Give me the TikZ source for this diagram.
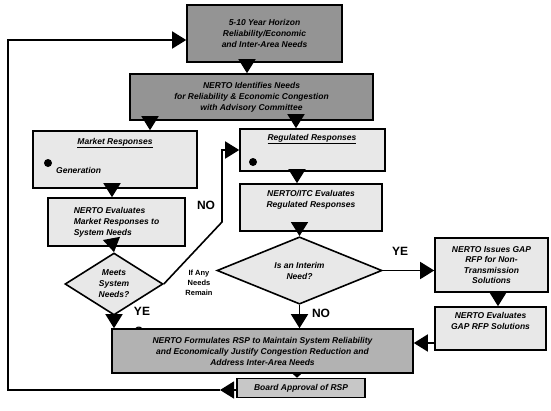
\documentclass[tikz,border=0pt]{standalone}
\usepackage{fontspec}
\setmainfont{Liberation Sans}
\usetikzlibrary{shapes.geometric,arrows.meta}
\begin{document}
\begin{tikzpicture}[x=1pt,y=-1pt,
  box/.style={draw=black,line width=1.6pt,inner sep=2pt,align=center,
    font=\bfseries\itshape\fontsize{8.5}{11}\selectfont},
  dark/.style={box,fill=black!42},
  mid/.style={box,fill=black!30},
  light/.style={box,fill=black!9},
  dia/.style={box,shape=diamond,inner sep=0pt,fill=black!9},
  txt/.style={inner sep=0pt,align=center,font=\bfseries\itshape\fontsize{8.5}{11}\selectfont},
  tag/.style={inner sep=0pt,font=\bfseries\fontsize{12}{12}\selectfont},
  dotmark/.style={circle,fill=black,inner sep=0pt,minimum size=8pt},
  arr/.style={line width=1.6pt,-{Triangle[width=17pt,length=14pt]}},
  shortarr/.style={line width=1.6pt,-{Triangle[width=11pt,length=5pt]}}
]
\useasboundingbox (0,0) rectangle (551,410);

% planning horizon and needs identification
\node[dark,minimum width=155pt,minimum height=57pt] (top) at (264.5,33.5)
  {5-10 Year Horizon\\Reliability/Economic\\and Inter-Area Needs};
\node[dark,minimum width=243pt,minimum height=46pt] (need) at (251.5,97)
  {NERTO Identifies Needs\\for Reliability \& Economic Congestion\\with Advisory Committee};

% market branch
\node[light,minimum width=164pt,minimum height=57pt] (market) at (115,159.5) {};
\node[txt] (markett) at (115,143) {\underline{Market Responses}};
\node[dotmark] (mdot) at (48,163) {};
\node[txt,anchor=west] (mgen) at (56,170) {Generation};
\node[light,minimum width=137pt,minimum height=48pt,align=left] (mkteval) at (116.5,222)
  {NERTO Evaluates\\Market Responses to\\System Needs};
\node[dia,minimum width=98pt,minimum height=62pt] (meets) at (114,284)
  {Meets\\System\\Needs?};

% regulated branch
\node[light,minimum width=145pt,minimum height=42pt] (reg) at (312.5,150) {};
\node[txt] (regt) at (312,139) {\underline{Regulated Responses}};
\node[dotmark] (rdot) at (253,162) {};
\node[light,minimum width=142pt,minimum height=47pt] (regeval) at (311,207.5) {};
\node[txt] (regevalt) at (311,200) {NERTO/ITC Evaluates\\Regulated Responses};
\node[dia,minimum width=165pt,minimum height=55pt] (interim) at (299.5,270.5)
  {Is an Interim\\Need?};

% interim (GAP) path
\node[light,minimum width=113pt,minimum height=54pt,font=\bfseries\itshape\fontsize{8.5}{10.5}\selectfont] (gap) at (491.5,265)
  {NERTO Issues GAP\\RFP for Non-\\Transmission\\Solutions};
\node[light,minimum width=111pt,minimum height=43pt] (gapeval) at (490.5,328.5) {};
\node[txt] (gapevalt) at (490.5,321) {NERTO Evaluates\\GAP RFP Solutions};

% plan formulation and approval
\node[tag] (yesl) at (142,311) {YE};
\node[tag] (yesl2) at (139,331) {S};
\node[mid,minimum width=301pt,minimum height=44pt] (rsp) at (262.5,351)
  {NERTO Formulates RSP to Maintain System Reliability\\and Economically Justify Congestion Reduction and\\Address Inter-Area Needs};
\node[box,fill=black!22,minimum width=128pt,minimum height=19pt,inner sep=1pt] (board) at (301,388)
  {Board Approval of RSP};

% branch labels
\node[tag] (nol) at (206,205) {NO};
\node[txt,font=\bfseries\fontsize{7.5}{10}\selectfont] (remain) at (199,283) {If Any\\Needs\\Remain};
\node[tag] (yesr) at (400,251) {YE};
\node[tag] (nor) at (321,313) {NO};

% connectors
\draw[arr] (top.south -| 247,0) -- (need.north -| 247,0);
\draw[arr] (need.south -| 150,0) -- (market.north -| 150,0);
\draw[arr] (need.south -| 296,0) -- (reg.north -| 296,0);
\draw[arr] (market.south -| 112,0) -- (mkteval.north -| 112,0);
\draw[arr] (mkteval.south -| 113,0) -- (meets.north);
\draw[arr] (meets.south) -- (rsp.north -| meets.south);
\draw[arr] (reg.south -| 297,0) -- (regeval.north -| 297,0);
\draw[arr] (regeval.south -| 299.5,0) -- (interim.north);
\draw[arr] (interim.south) -- (rsp.north -| interim.south);
\draw[arr] (interim.east) -- (gap.west |- interim.east);
\draw[arr] (gap.south -| 498,0) -- (gapeval.north -| 498,0);
\draw[arr] (gapeval.west |- 0,343) -- (rsp.east |- 0,343);
\draw[shortarr] (rsp.south -| 297,0) -- (board.north -| 297,0);

% unmet needs route back to the regulated responses
\coordinate (bend1) at (222,222);
\coordinate (bend2) at (222,150);
\draw[arr] (meets.east) -- (bend1) -- (bend2) -- (reg.west |- bend2);

% feedback loop from approval to the next planning cycle
\coordinate (back) at (220,390);
\coordinate (corner) at (8,40);
\draw[arr] (board.west |- back) -- (back);
\draw[arr] (back) -| (corner) -- (top.west |- corner);
\end{tikzpicture}
\end{document}
